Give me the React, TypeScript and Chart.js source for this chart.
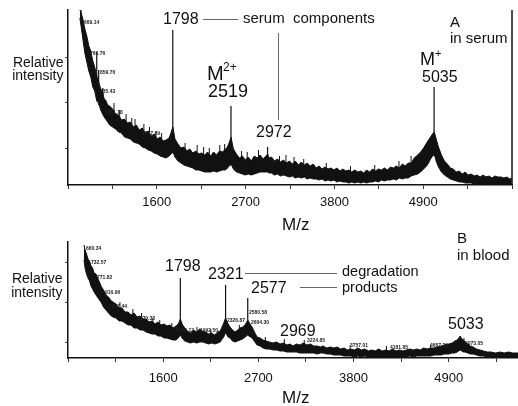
import React, { useEffect, useRef } from "react";
import { Chart, registerables } from "chart.js";

Chart.register(...registerables);

// ---------- shared axis ----------
const tickValuesA = [500, 1050, 1600, 2150, 2700, 3250, 3800, 4350, 4900, 5450, 6000];
const tickValuesB = [500, 1050, 1600, 2150, 2700, 3250, 3800, 4350, 4900, 5450];
const tickLabels = [1600, 2700, 3800, 4900];

// ---------- Panel A: in serum (noise band: upper / lower edge) ----------
const mzA = [
  647, 660, 684, 709, 733, 758, 782, 807, 831, 856, 880, 905, 929, 948, 966, 991, 1015,
  1052, 1089, 1126, 1163, 1199, 1236, 1273, 1310, 1347, 1383, 1420, 1457, 1494, 1531, 1567, 1604, 1641, 1678, 1715, 1752,
  1776, 1790, 1798, 1806, 1825,
  1862, 1899, 1936, 1972, 2009, 2046, 2083, 2120, 2156, 2193, 2230, 2267, 2304, 2340, 2377, 2414, 2451, 2475,
  2500, 2512, 2519, 2526, 2549,
  2586, 2623, 2660, 2696, 2733, 2770, 2807, 2844, 2880, 2917, 2954,
  2972, 2990,
  3021, 3058, 3095, 3132, 3169, 3206, 3243, 3280, 3316, 3353, 3390, 3427, 3463, 3500, 3537, 3574, 3611, 3647, 3684, 3721,
  3758, 3795, 3831, 3868, 3905, 3942, 3979, 4015, 4052, 4089, 4126, 4163, 4199, 4236, 4273, 4310, 4347, 4383, 4420, 4457,
  4494, 4531, 4568, 4604, 4641, 4678, 4715, 4752, 4789,
  4831, 4868, 4905, 4942, 4966, 4991, 5015, 5035, 5048, 5064, 5089, 5126,
  5163, 5199, 5236, 5273, 5310, 5347, 5384, 5420, 5457, 5494, 5531, 5568, 5604, 5641, 5678, 5715, 5752, 5788, 5825, 5862,
  5899, 5936, 5973, 5997,
];
const topA = [
  175, 173, 166, 156, 149, 139, 134, 124, 118, 109, 103, 96, 93, 86, 85, 80, 79,
  76, 71, 70, 65, 66, 62, 63, 58, 60, 55, 57, 52, 54, 49, 51, 46, 48, 44, 45, 47,
  52, 56, 58, 55, 46,
  41, 37, 38, 34, 36, 32, 34, 31, 32, 30, 33, 29, 33, 30, 34, 33, 36, 38,
  43, 46, 48, 45, 36,
  31, 27, 29, 25, 28, 24, 29, 27, 30, 26, 29,
  31, 27,
  28, 24, 26, 23, 25, 22, 24, 21, 24, 20, 23, 20, 22, 19, 21, 17, 19, 16, 18, 16,
  17, 15, 17, 14, 16, 14, 15, 13, 15, 13, 14, 12, 15, 13, 16, 14, 16, 15, 17, 15,
  18, 17, 19, 17, 21, 19, 22, 22, 27,
  30, 33, 37, 42, 45, 48, 51, 53, 50, 45, 38, 30,
  24, 21, 17, 16, 13, 14, 11, 13, 10, 11, 9, 10, 8, 10, 8, 9, 7, 9, 8, 8,
  7, 8, 6, 7,
];
const botA = [
  167, 160, 146, 132, 123, 114, 108, 98, 94, 84, 82, 75, 71, 68, 66, 63, 60,
  58, 56, 53, 52, 48, 47, 46, 43, 42, 41, 38, 37, 35, 34, 32, 31, 29, 28, 27, 29,
  31, 32, 33, 32, 28,
  24, 22, 20, 19, 18, 17, 15, 15, 14, 13, 13, 13, 14, 13, 14, 15, 15, 17,
  19, 20, 21, 20, 16,
  13, 12, 11, 10, 11, 10, 11, 12, 13, 13, 13,
  13, 12,
  12, 10, 11, 9, 10, 9, 8, 9, 7, 8, 7, 8, 6, 7, 6, 6, 5, 6, 4, 5,
  4, 5, 3, 4, 3, 3, 2, 3, 2, 3, 2, 3, 2, 3, 3, 4, 3, 5, 4, 5,
  5, 6, 5, 7, 6, 7, 7, 9, 10,
  11, 13, 16, 19, 22, 26, 29, 30, 28, 23, 18, 13,
  10, 8, 6, 5, 4, 3, 3, 2, 2, 2, 1, 1, 1, 1, 0, 0, 0, 0, 0, 0,
  0, 0, 0, 0,
];
// labelled peaks (thin vertical lines)
const peakMzA = [660, 856, 880, 930, 1798, 2519, 2972, 5035];
const peakTopA = [175, 133, 115, 97, 155, 79, 38, 98];
const peakBaseA = [165, 100, 80, 72, 33, 21, 13, 30];
// small noise spikes riding on the band
const noiseMzA = [1070, 1140, 1220, 1290, 1330, 1440, 1510, 1590, 1660, 1950, 2100, 2180, 2250, 2380, 2440,
  2650, 2720, 2860, 3120, 3200, 3300, 3420, 3700, 4000, 4300, 4600, 4750];
const noiseTopA = [82, 75, 71, 67, 66, 61, 58, 54, 52, 42, 40, 38, 37, 40, 41,
  34, 33, 35, 29, 30, 28, 26, 22, 19, 20, 24, 29];
const noiseBaseA = [70, 64, 60, 56, 55, 50, 49, 45, 44, 34, 31, 30, 29, 32, 33,
  26, 25, 27, 22, 22, 20, 19, 15, 13, 14, 17, 21];

// ---------- Panel B: in blood ----------
const mzB = [
  685, 697, 714, 731, 749, 766, 784, 801, 824, 847, 864, 881, 910, 939, 968, 1000, 1020,
  1055, 1090, 1124, 1159, 1194, 1228, 1263, 1298, 1332, 1367, 1402, 1436, 1471, 1506, 1540, 1575, 1610, 1644, 1679, 1714, 1748,
  1775, 1790, 1798, 1806, 1825, 1850,
  1880, 1915, 1950, 1985, 2020, 2055, 2090, 2125, 2160, 2195, 2230, 2260, 2280,
  2300, 2312, 2321, 2330, 2350, 2373,
  2400, 2431, 2460, 2488, 2517, 2546, 2565, 2577, 2590, 2610, 2627,
  2660, 2685, 2720, 2754, 2790, 2825, 2870, 2910, 2950, 2990, 3030, 3066, 3100, 3140, 3180, 3220, 3263, 3300, 3340, 3380,
  3420, 3448, 3490, 3530, 3570, 3610,
  3650, 3690, 3730, 3770, 3810, 3850, 3890, 3930, 3970, 4010, 4050, 4090, 4130, 4170, 4210, 4250, 4290, 4330, 4370, 4410,
  4450, 4490, 4530, 4570, 4610, 4650, 4690, 4730, 4770, 4810, 4850,
  4900, 4940, 4970, 4997, 5015, 5033, 5050, 5070, 5089, 5120, 5150, 5182,
  5220, 5260, 5300, 5344, 5390, 5440, 5494, 5540, 5590, 5640, 5700,
];
const topB = [
  113, 108, 104, 99, 97, 92, 90, 85, 84, 79, 76, 72, 68, 63, 61, 57, 56,
  54, 50, 50, 46, 46, 43, 45, 41, 42, 39, 39, 36, 37, 34, 36, 33, 34, 32, 33, 30, 32,
  34, 37, 39, 37, 33, 30,
  27, 25, 28, 26, 29, 27, 26, 24, 25, 23, 26, 27, 31,
  35, 38, 40, 38, 34, 31,
  28, 26, 28, 30, 31, 33, 36, 38, 36, 33, 31,
  25, 21, 20, 18, 17, 16, 15, 16, 14, 15, 13, 14, 12, 14, 13, 15, 13, 14, 12, 12,
  11, 12, 10, 11, 10, 11,
  9, 10, 8, 9, 8, 10, 8, 9, 7, 8, 7, 9, 7, 8, 7, 9, 7, 8, 7, 8,
  9, 8, 9, 8, 10, 9, 10, 10, 11, 12, 13,
  14, 15, 17, 18, 20, 22, 19, 18, 16, 14, 12, 11,
  9, 8, 7, 6, 6, 5, 6, 5, 6, 5, 5,
];
const botB = [
  98, 90, 84, 80, 77, 72, 69, 66, 63, 60, 58, 56, 51, 48, 45, 42, 41,
  40, 37, 37, 35, 33, 33, 30, 30, 28, 28, 26, 25, 24, 24, 22, 22, 20, 20, 19, 18, 18,
  20, 22, 23, 22, 19, 17,
  16, 15, 16, 15, 16, 16, 15, 14, 15, 14, 15, 16, 19,
  21, 24, 25, 24, 21, 20,
  17, 16, 17, 18, 19, 21, 22, 23, 22, 21, 20,
  16, 13, 12, 10, 9, 9, 8, 8, 7, 7, 6, 6, 6, 6, 5, 5, 5, 5, 5, 4,
  5, 5, 4, 4, 3, 3,
  3, 2, 2, 2, 1, 2, 1, 2, 1, 1, 1, 1, 1, 1, 1, 1, 1, 1, 1, 1,
  2, 1, 2, 2, 2, 2, 2, 3, 3, 3, 4,
  4, 5, 5, 6, 7, 8, 7, 6, 6, 5, 4, 4,
  3, 2, 2, 1, 1, 1, 1, 1, 1, 1, 1,
];
const peakMzB = [1798, 2321, 2577];
const peakTopB = [80, 73, 60];
const peakBaseB = [23, 25, 23];
const noiseMzB = [1100, 1250, 1350, 1480, 1560, 1700, 1990, 2150, 2480, 2780, 3000, 3230, 3760, 4180, 4690, 5075];
const noiseTopB = [56, 49, 45, 40, 38, 35, 31, 29, 33, 21, 19, 18, 13, 12, 13, 20];
const noiseBaseB = [48, 41, 38, 33, 31, 29, 25, 23, 27, 16, 14, 13, 8, 7, 9, 15];

// tiny peak-list annotations printed on the spectra
const smallLabelsA: [string, number, number][] = [
  ["669.14", 84, 20], ["766.76", 90, 51], ["859.76", 100, 70], ["935.43", 100, 89],
  ["1011.18", 105, 110], ["1077.09", 142, 131],
];
const smallLabelsB: [string, number, number][] = [
  ["660.34", 86, 246], ["732.57", 91, 260], ["771.82", 97, 275], ["916.96", 105, 290],
  ["1007.44", 109, 304], ["1279.33", 137, 316], ["1799.12", 176, 328], ["1992.50", 200, 328],
  ["2326.87", 227, 318], ["2580.58", 249, 310], ["2604.30", 251, 320], ["3224.85", 307, 338],
  ["3757.01", 350, 343], ["4181.85", 390, 345], ["4687.30", 430, 343], ["5073.05", 465, 341],
];

const FONT = '"Liberation Sans", Arial, Helvetica, sans-serif';
const INK = "#111";

function pts(xs: number[], ys: number[]) {
  const n = Math.min(xs.length, ys.length);
  const out: { x: number; y: number }[] = [];
  for (let i = 0; i < n; i++) out.push({ x: xs[i], y: ys[i] });
  return out;
}
function spikes(xs: number[], tops: number[], bases: number[]) {
  const out: { x: number; y: number | null }[] = [];
  xs.forEach((x, i) => {
    out.push({ x, y: bases[i] });
    out.push({ x, y: tops[i] });
    out.push({ x, y: null });
  });
  return out;
}

const rightFrame = {
  id: "rightFrame",
  afterDraw(chart: any, _a: any, opts: any) {
    if (!opts || !opts.show) return;
    const { ctx, chartArea } = chart;
    ctx.save();
    ctx.strokeStyle = INK;
    ctx.lineWidth = 1.5;
    ctx.beginPath();
    ctx.moveTo(chartArea.right, chartArea.top);
    ctx.lineTo(chartArea.right, chartArea.bottom);
    ctx.stroke();
    ctx.restore();
  },
};

function makeConfig(p: {
  mz: number[]; top: number[]; bot: number[];
  pMz: number[]; pTop: number[]; pBase: number[];
  nMz: number[]; nTop: number[]; nBase: number[];
  xMax: number; yMax: number; xTicks: number[]; yTicks: number[];
  padTop: number; padRight: number; axisH: number; tickPad: number; frame: boolean;
}): any {
  return {
    type: "line",
    data: {
      datasets: [
        {
          data: pts(p.mz, p.top), borderColor: INK, backgroundColor: INK, borderWidth: 1,
          pointRadius: 0, fill: "+1", tension: 0,
        },
        {
          data: pts(p.mz, p.bot), borderColor: INK, borderWidth: 1, pointRadius: 0, fill: false, tension: 0,
        },
        {
          data: spikes(p.pMz, p.pTop, p.pBase), borderColor: INK, borderWidth: 1.2, pointRadius: 0,
          fill: false, spanGaps: false, tension: 0,
        },
        {
          data: spikes(p.nMz, p.nTop, p.nBase), borderColor: INK, borderWidth: 1, pointRadius: 0,
          fill: false, spanGaps: false, tension: 0,
        },
      ],
    },
    options: {
      responsive: false,
      animation: false,
      devicePixelRatio: 1,
      layout: { padding: { top: p.padTop, right: p.padRight, left: 0, bottom: 0 } },
      plugins: { legend: { display: false }, tooltip: { enabled: false }, rightFrame: { show: p.frame } },
      scales: {
        x: {
          type: "linear",
          min: 500,
          max: p.xMax,
          afterBuildTicks: (s: any) => { s.ticks = p.xTicks.map((v) => ({ value: v })); },
          afterFit: (s: any) => { s.height = p.axisH; },
          ticks: {
            autoSkip: false, maxRotation: 0, padding: p.tickPad, color: INK,
            font: { family: FONT, size: 13 },
            callback: (v: any) => (tickLabels.includes(Number(v)) ? String(v) : ""),
          },
          grid: { drawOnChartArea: false, drawTicks: true, tickLength: 4, color: "#333", lineWidth: 1 },
          border: { display: true, color: INK, width: 1.5 },
        },
        y: {
          min: 0,
          max: p.yMax,
          afterBuildTicks: (s: any) => { s.ticks = p.yTicks.map((v) => ({ value: v })); },
          afterFit: (s: any) => { s.width = 68; },
          ticks: { display: false },
          grid: { drawOnChartArea: false, drawTicks: true, tickLength: 3, color: "#444" },
          border: { display: true, color: INK, width: 1.5 },
        },
      },
    },
    plugins: [rightFrame],
  };
}

type Lab = { t: string; x: number; b: number; s: number; right?: boolean };
const texts: Lab[] = [
  { t: "Relative", x: 63.5, b: 67, s: 14, right: true },
  { t: "intensity", x: 63.5, b: 80, s: 14, right: true },
  { t: "1798", x: 163, b: 25, s: 16 },
  { t: "serum  components", x: 243, b: 23, s: 15 },
  { t: "M", x: 207, b: 80, s: 20 },
  { t: "2+", x: 223, b: 71, s: 12 },
  { t: "2519", x: 208, b: 97, s: 18 },
  { t: "2972", x: 256, b: 138, s: 16 },
  { t: "A", x: 450, b: 27, s: 15 },
  { t: "in serum", x: 450, b: 43, s: 15 },
  { t: "M", x: 420, b: 65, s: 18 },
  { t: "+", x: 435, b: 57, s: 11 },
  { t: "5035", x: 422, b: 83, s: 16 },
  { t: "M/z", x: 282, b: 230, s: 17 },
  { t: "Relative", x: 62.5, b: 283, s: 14, right: true },
  { t: "intensity", x: 62.5, b: 297, s: 14, right: true },
  { t: "1798", x: 165, b: 272, s: 16 },
  { t: "2321", x: 208, b: 280, s: 16 },
  { t: "2577", x: 251, b: 294, s: 16 },
  { t: "degradation", x: 342, b: 276, s: 14.5 },
  { t: "products", x: 342, b: 292, s: 14.5 },
  { t: "B", x: 457, b: 243, s: 15 },
  { t: "in blood", x: 457, b: 260, s: 15 },
  { t: "2969", x: 280, b: 337, s: 16 },
  { t: "5033", x: 448, b: 330, s: 16 },
  { t: "M/z", x: 282, b: 403, s: 17 },
];
const leaders: [number, number, number, number][] = [
  [203, 19, 238, 19],
  [278, 33, 278, 120],
  [245, 273, 337, 273],
  [300, 287, 337, 287],
];

export default function App() {
  const refA = useRef<HTMLCanvasElement>(null);
  const refB = useRef<HTMLCanvasElement>(null);

  useEffect(() => {
    const a = new Chart(refA.current as HTMLCanvasElement, makeConfig({
      mz: mzA, top: topA, bot: botA, pMz: peakMzA, pTop: peakTopA, pBase: peakBaseA,
      nMz: noiseMzA, nTop: noiseTopA, nBase: noiseBaseA,
      xMax: 6000, yMax: 175, xTicks: tickValuesA, yTicks: [37, 82, 127],
      padTop: 10, padRight: 2, axisH: 30, tickPad: 6, frame: true,
    }));
    const b = new Chart(refB.current as HTMLCanvasElement, makeConfig({
      mz: mzB, top: topB, bot: botB, pMz: peakMzB, pTop: peakTopB, pBase: peakBaseB,
      nMz: noiseMzB, nTop: noiseTopB, nBase: noiseBaseB,
      xMax: 5700, yMax: 116, xTicks: tickValuesB, yTicks: [16, 56, 96],
      padTop: 27, padRight: 0, axisH: 48, tickPad: 9, frame: false,
    }));
    return () => { a.destroy(); b.destroy(); };
  }, []);

  return (
    <div style={{ position: "absolute", left: 0, top: 0, width: 518, height: 406, background: "#fff", overflow: "hidden", fontFamily: FONT, color: INK }}>
      <canvas ref={refA} width={518} height={215} style={{ position: "absolute", left: 0, top: 0 }} />
      <canvas ref={refB} width={518} height={191} style={{ position: "absolute", left: 0, top: 215 }} />
      {leaders.map(([x1, y1, x2, y2], i) => (
        <div key={"l" + i} style={{
          position: "absolute", left: Math.min(x1, x2), top: Math.min(y1, y2),
          width: Math.max(1, Math.abs(x2 - x1)), height: Math.max(1, Math.abs(y2 - y1)),
          background: "#666",
        }} />
      ))}
      {texts.map((l, i) => (
        <div key={"t" + i} style={{
          position: "absolute",
          top: l.b - 0.8465 * l.s,
          ...(l.right ? { right: 518 - l.x, textAlign: "right" as const } : { left: l.x }),
          fontSize: l.s, lineHeight: l.s + "px", whiteSpace: "pre",
        }}>{l.t}</div>
      ))}
      {[...smallLabelsA, ...smallLabelsB].map(([t, x, y], i) => (
        <div key={"s" + i} style={{
          position: "absolute", left: x, top: y, fontSize: 5, lineHeight: "5px",
          fontWeight: 700, whiteSpace: "pre", color: "#222",
        }}>{t}</div>
      ))}
    </div>
  );
}
